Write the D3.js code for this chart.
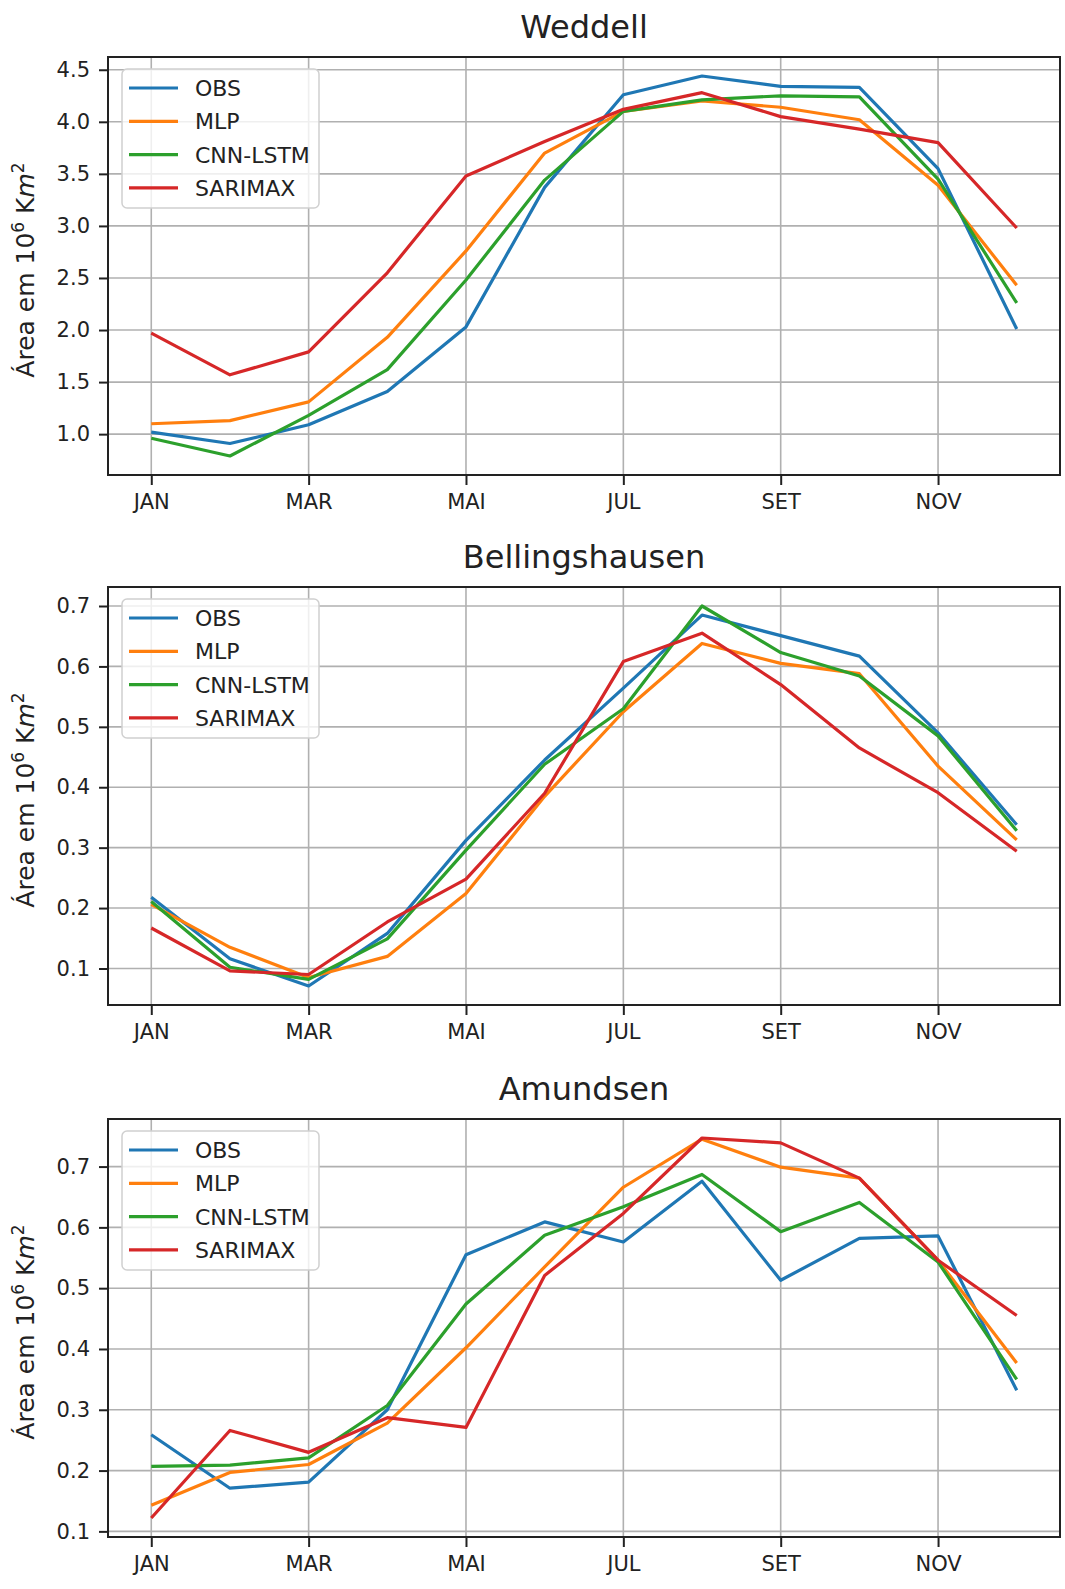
<!DOCTYPE html>
<html>
<head>
<meta charset="utf-8">
<script src="https://cdn.jsdelivr.net/npm/d3@7"></script>
<style>
  body { margin: 0; background: #fff; }
  svg { font-family: "DejaVu Sans", sans-serif; }
</style>
</head>
<body>
<div id="chart"></div>
<script>
// months shown on the x axis (every other one gets a label)
const months = ["JAN", "FEV", "MAR", "ABR", "MAI", "JUN", "JUL", "AGO", "SET", "OUT", "NOV", "DEZ"];
const tickMonths = ["JAN", "MAR", "MAI", "JUL", "SET", "NOV"];
const seriesNames = ["OBS", "MLP", "CNN-LSTM", "SARIMAX"];
const seriesColors = ["#1f77b4", "#ff7f0e", "#2ca02c", "#d62728"];

// Weddell
const weddellObs = [1.02, 0.91, 1.09, 1.41, 2.03, 3.37, 4.26, 4.44, 4.34, 4.33, 3.55, 2.01];
const weddellMlp = [1.10, 1.13, 1.31, 1.93, 2.76, 3.70, 4.10, 4.20, 4.14, 4.02, 3.39, 2.43];
const weddellCnn = [0.96, 0.79, 1.18, 1.62, 2.48, 3.44, 4.10, 4.21, 4.25, 4.24, 3.45, 2.26];
const weddellSar = [1.97, 1.57, 1.79, 2.55, 3.48, 3.81, 4.12, 4.28, 4.05, 3.93, 3.80, 2.98];
const weddellTicks = [1.0, 1.5, 2.0, 2.5, 3.0, 3.5, 4.0, 4.5];

// Bellingshausen
const bellObs = [0.218, 0.116, 0.071, 0.158, 0.312, 0.445, 0.564, 0.685, 0.651, 0.617, 0.490, 0.338];
const bellMlp = [0.206, 0.135, 0.085, 0.120, 0.224, 0.385, 0.525, 0.638, 0.605, 0.588, 0.435, 0.313];
const bellCnn = [0.211, 0.102, 0.082, 0.149, 0.296, 0.438, 0.530, 0.700, 0.623, 0.584, 0.485, 0.328];
const bellSar = [0.167, 0.096, 0.090, 0.177, 0.248, 0.390, 0.608, 0.655, 0.570, 0.465, 0.391, 0.294];
const bellTicks = [0.1, 0.2, 0.3, 0.4, 0.5, 0.6, 0.7];

// Amundsen
const amunObs = [0.259, 0.171, 0.181, 0.300, 0.555, 0.609, 0.576, 0.676, 0.513, 0.582, 0.586, 0.332];
const amunMlp = [0.143, 0.197, 0.210, 0.278, 0.402, 0.535, 0.666, 0.745, 0.699, 0.681, 0.546, 0.377];
const amunCnn = [0.207, 0.209, 0.221, 0.307, 0.474, 0.587, 0.634, 0.687, 0.593, 0.641, 0.543, 0.350];
const amunSar = [0.122, 0.266, 0.230, 0.287, 0.271, 0.521, 0.623, 0.747, 0.739, 0.681, 0.546, 0.455];
const amunTicks = [0.1, 0.2, 0.3, 0.4, 0.5, 0.6, 0.7];

const panels = [
    {title: "Weddell", series: [weddellObs, weddellMlp, weddellCnn, weddellSar], ticks: weddellTicks, top: 57},
    {title: "Bellingshausen", series: [bellObs, bellMlp, bellCnn, bellSar], ticks: bellTicks, top: 587},
    {title: "Amundsen", series: [amunObs, amunMlp, amunCnn, amunSar], ticks: amunTicks, top: 1119}
];

const W = 1065, H = 1589;
const plot = {left: 108, right: 1060, h: 418};
const textColor = "#222";

const svg = d3.select("#chart").append("svg")
    .attr("width", W)
    .attr("height", H)
    .attr("viewBox", `0 0 ${W} ${H}`);

// same x scale for all panels, matplotlib-like 5% margins
const x = d3.scaleLinear()
    .domain([-0.55, 11.55])
    .range([plot.left, plot.right]);

let drawPanel = (p) => {
    const top = p.top, bottom = p.top + plot.h;
    const all = p.series.flat();
    const lo = d3.min(all), hi = d3.max(all);
    const pad = (hi - lo) * 0.05;
    const y = d3.scaleLinear().domain([lo - pad, hi + pad]).range([bottom, top]);

    const g = svg.append("g");

    // title
    g.append("text")
        .attr("x", (plot.left + plot.right) / 2)
        .attr("y", top - 19)
        .attr("text-anchor", "middle")
        .attr("fill", textColor)
        .style("font-size", "32px")
        .text(p.title);

    // grid
    const grid = g.append("g").attr("stroke", "#b0b0b0").attr("stroke-width", 1.6);
    grid.selectAll(".gx").data(tickMonths).join("line")
        .attr("x1", d => x(months.indexOf(d))).attr("x2", d => x(months.indexOf(d)))
        .attr("y1", top).attr("y2", bottom);
    grid.selectAll(".gy").data(p.ticks).join("line")
        .attr("x1", plot.left).attr("x2", plot.right)
        .attr("y1", d => y(d)).attr("y2", d => y(d));

    // series
    const line = d3.line().x((d, i) => x(i)).y(d => y(d));
    g.append("g").selectAll("path").data(p.series).join("path")
        .attr("d", line)
        .attr("fill", "none")
        .attr("stroke", (d, i) => seriesColors[i])
        .attr("stroke-width", 3.2)
        .attr("stroke-linejoin", "round");

    // axes
    const xAxis = d3.axisBottom(x)
        .tickValues(tickMonths.map(m => months.indexOf(m)))
        .tickFormat(i => months[i])
        .tickSize(10).tickPadding(9).tickSizeOuter(0);
    const gx = g.append("g").attr("transform", `translate(0,${bottom})`).call(xAxis);

    const yAxis = d3.axisLeft(y)
        .tickValues(p.ticks)
        .tickFormat(d3.format(".1f"))
        .tickSize(9).tickPadding(9).tickSizeOuter(0);
    const gy = g.append("g").attr("transform", `translate(${plot.left},0)`).call(yAxis);

    [gx, gy].forEach(a => {
        a.select(".domain").remove();
        a.selectAll(".tick line").attr("stroke", textColor).attr("stroke-width", 2);
        a.selectAll(".tick text").attr("fill", textColor)
            .style("font-size", "21px").style("font-family", "DejaVu Sans");
    });

    // frame
    g.append("rect")
        .attr("x", plot.left).attr("y", top)
        .attr("width", plot.right - plot.left).attr("height", plot.h)
        .attr("fill", "none").attr("stroke", textColor).attr("stroke-width", 2);

    // y label
    const yl = g.append("text")
        .attr("transform", `translate(34,${top + plot.h / 2 + 4}) rotate(-90)`)
        .attr("text-anchor", "middle")
        .attr("fill", textColor)
        .style("font-size", "25px");
    yl.append("tspan").text("Área em 10");
    yl.append("tspan").attr("dy", -10).style("font-size", "17px").text("6");
    yl.append("tspan").attr("dy", 10).text(" K");
    yl.append("tspan").style("font-style", "italic").text("m");
    yl.append("tspan").attr("dy", -10).style("font-size", "17px").text("2");

    // legend
    const lg = g.append("g").attr("transform", `translate(${plot.left + 14},${top + 12})`);
    lg.append("rect")
        .attr("width", 197).attr("height", 139).attr("rx", 5)
        .attr("fill", "#fff").attr("fill-opacity", 0.8)
        .attr("stroke", "#d0d0d0").attr("stroke-width", 1.5);
    const rows = lg.selectAll(".row").data(seriesNames).join("g")
        .attr("transform", (d, i) => `translate(0,${19 + i * 33.3})`);
    rows.append("line")
        .attr("x1", 7).attr("x2", 56)
        .attr("stroke", (d, i) => seriesColors[i]).attr("stroke-width", 3.2);
    rows.append("text")
        .attr("x", 73).attr("dy", "0.36em")
        .attr("fill", textColor)
        .style("font-size", "22px")
        .text(d => d);
};

panels.forEach(drawPanel);
</script>
</body>
</html>
